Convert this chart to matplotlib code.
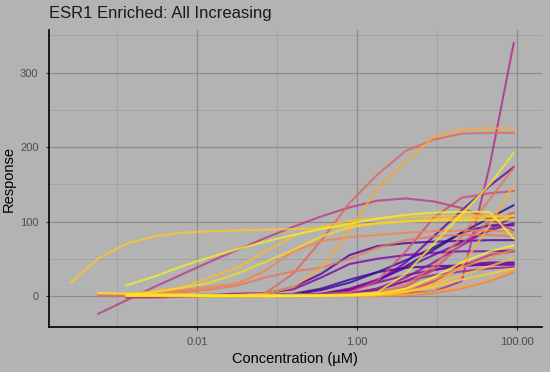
import matplotlib

matplotlib.use("Agg")

import matplotlib.pyplot as plt
import numpy as np
from matplotlib.ticker import FixedLocator, NullFormatter

N = None

# tested concentrations (uM), shared by all curves
CONC = [0.00026, 0.00058, 0.0013, 0.0029, 0.0065, 0.0145, 0.032, 0.072, 0.16,
        0.36, 0.81, 1.8, 4.1, 9.1, 20.4, 45.7, 91.2]

# one response series per compound, with its colour position on the plasma scale
CURVE_COLOR = [0.88, 0.97, 0.45, 0.60, 0.80, 0.40, 0.95, 0.12, 0.25, 0.70,
               0.66, 0.85, 0.92, 0.20, 0.65, 0.82, 0.52, 0.05, 0.30, 0.22,
               0.08, 0.75, 0.86, 0.28, 0.35, 0.80, 0.68, 0.10, 0.15, 0.55,
               0.42, 0.98, 0.90]
CURVES = [
    [17, 50, 70, 80, 85, 87, 88, 89, 90, 91, 94, 97, 100, 103, 105, 106, 107],
    [N, N, 14, 26, 40, 52, 63, 73, 82, 90, 97, 104, 109, 112, 113, 113, 77],
    [N, -24, -6, 12, 29, 46, 62, 78, 93, 107, 119, 128, 131, 127, 118, 104, 88],
    [N, 0, 0, 0, 1, 1, 2, 4, 30, 75, 125, 163, 195, 210, 218, 219, 219],
    [N, N, 0, 0, 0, 1, 1, 3, 12, 38, 88, 145, 180, 214, 224, 225, 225],
    [N, N, 0, 1, 0, 0, 1, 0, 1, 2, 2, 3, 4, 6, 20, 175, 340],
    [N, 4, 3, 2, 2, 1, 1, 1, 0, 1, 2, 5, 30, 70, 110, 150, 192],
    [N, N, 0, 0, 1, 1, 2, 3, 12, 30, 55, 67, 71, 73, 74, 75, 75],
    [N, N, 0, 1, 1, 2, 3, 4, 9, 25, 43, 50, 55, 58, 60, 60, 61],
    [N, N, 2, 4, 8, 12, 17, 34, 60, 74, 79, 82, 85, 87, 88, 88, 86],
    [N, 1, 1, 2, 5, 9, 14, 25, 33, 38, 50, 65, 75, 80, 82, 82, 80],
    [N, N, 3, 6, 12, 25, 38, 60, 80, 93, 101, 104, 106, 107, 108, 108, 108],
    [N, N, 2, 5, 11, 18, 30, 46, 62, 80, 92, 98, 100, 101, 102, 102, 103],
    [N, N, 0, 0, 0, 0, 0, 1, 1, 3, 8, 20, 45, 80, 115, 148, 173],
    [N, N, 1, 0, 1, 1, 0, 1, 1, 1, 2, 5, 15, 40, 80, 130, 172],
    [N, N, 2, 2, 1, 2, 1, 1, 2, 1, 1, 2, 6, 15, 40, 95, 149],
    [N, N, 0, 0, 0, 1, 1, 1, 2, 3, 5, 20, 60, 105, 132, 138, 141],
    [N, N, -1, 0, 0, 0, 0, 0, 1, 2, 8, 20, 40, 62, 85, 105, 122],
    [N, N, 0, -1, 0, 0, 0, 0, 1, 1, 3, 10, 25, 45, 68, 90, 106],
    [N, N, 0, 0, 0, 0, 0, 1, 1, 3, 10, 22, 38, 55, 72, 88, 98],
    [N, N, 0, 0, 0, 0, 1, 1, 2, 8, 18, 32, 48, 65, 85, 95, 95],
    [N, N, 2, 1, 2, 1, 1, 2, 1, 1, 1, 2, 8, 22, 38, 52, 62],
    [N, N, 3, 2, 2, 2, 1, 1, 1, 0, 0, 1, 5, 15, 28, 40, 51],
    [N, N, 0, 0, 0, 0, 0, 1, 1, 2, 8, 18, 28, 35, 40, 43, 44],
    [N, N, -1, -1, -1, 0, 0, 0, 1, 1, 3, 10, 20, 28, 33, 37, 39],
    [N, N, 1, 1, 0, 0, 0, 0, 0, 0, 0, 1, 2, 6, 12, 22, 35],
    [N, N, 0, 0, -1, -1, 0, 0, 0, 0, 0, 0, 1, 4, 10, 20, 32],
    [N, N, 0, 0, 0, 0, 1, 1, 3, 10, 22, 32, 38, 40, 41, 42, 42],
    [N, N, 0, 0, 0, 0, 0, 0, 1, 1, 2, 8, 20, 35, 42, 45, 45],
    [N, N, 1, 1, 1, 0, 0, 0, 1, 1, 1, 3, 12, 35, 70, 100, 112],
    [N, N, -2, -2, -1, -1, -1, 0, 0, 0, 1, 2, 5, 20, 40, 55, 60],
    [N, N, 1, 1, 1, 0, 0, 0, 0, 0, 1, 3, 10, 25, 45, 60, 68],
    [N, N, 0, 0, 0, -1, -1, -1, 0, 0, 1, 2, 6, 12, 22, 30, 37],
]

X_MAJOR = [0.01, 1.0, 100.0]
X_MINOR = [0.001, 0.1, 10.0]
X_LABELS = ["0.01", "1.00", "100.00"]
Y_MAJOR = [0, 100, 200, 300]
Y_MINOR = [-50, 50, 150, 250, 350]

BG = "#b3b3b3"

plt.rcParams["font.family"] = ["Liberation Sans", "DejaVu Sans"]

fig = plt.figure(figsize=(5.5, 3.72), dpi=100, facecolor=BG)
ax = fig.add_axes([0.089, 0.121, 0.896, 0.798], facecolor=BG)

cmap = plt.cm.plasma
order = np.argsort(CURVE_COLOR, kind="stable")
for i in order:
    y = np.array(CURVES[i], dtype=float)
    ax.plot(CONC, y, color=cmap(CURVE_COLOR[i]), lw=1.5, alpha=0.8,
            solid_capstyle="round")

ax.set_xscale("log")
ax.set_xlim(10 ** -3.85, 10 ** 2.31)
ax.set_ylim(-41.6, 357)

ax.xaxis.set_major_locator(FixedLocator(X_MAJOR))
ax.xaxis.set_minor_locator(FixedLocator(X_MINOR))
ax.xaxis.set_minor_formatter(NullFormatter())
ax.set_xticklabels(X_LABELS)
ax.yaxis.set_major_locator(FixedLocator(Y_MAJOR))
ax.yaxis.set_minor_locator(FixedLocator(Y_MINOR))

ax.grid(True, which="major", color="#8c8c8c", lw=0.9)
ax.grid(True, which="minor", color="#a0a0a0", lw=0.6)
ax.set_axisbelow(True)

for side in ("top", "right"):
    ax.spines[side].set_visible(False)
for side in ("left", "bottom"):
    ax.spines[side].set_color("black")
    ax.spines[side].set_linewidth(1.2)

ax.tick_params(which="major", length=2.5, width=0.8, color="#333333",
               labelsize=8, labelcolor="#4d4d4d", pad=5)
ax.tick_params(which="minor", length=0)

ax.set_xlabel("Concentration (\u00b5M)", fontsize=10.5, color="black", labelpad=3)
ax.set_ylabel("Response", fontsize=10.5, color="black", labelpad=3)
fig.text(0.089, 0.965, "ESR1 Enriched: All Increasing", fontsize=12,
         ha="left", va="center", color="#1a1a1a")

fig.savefig("out.png", dpi=100, facecolor=BG)
